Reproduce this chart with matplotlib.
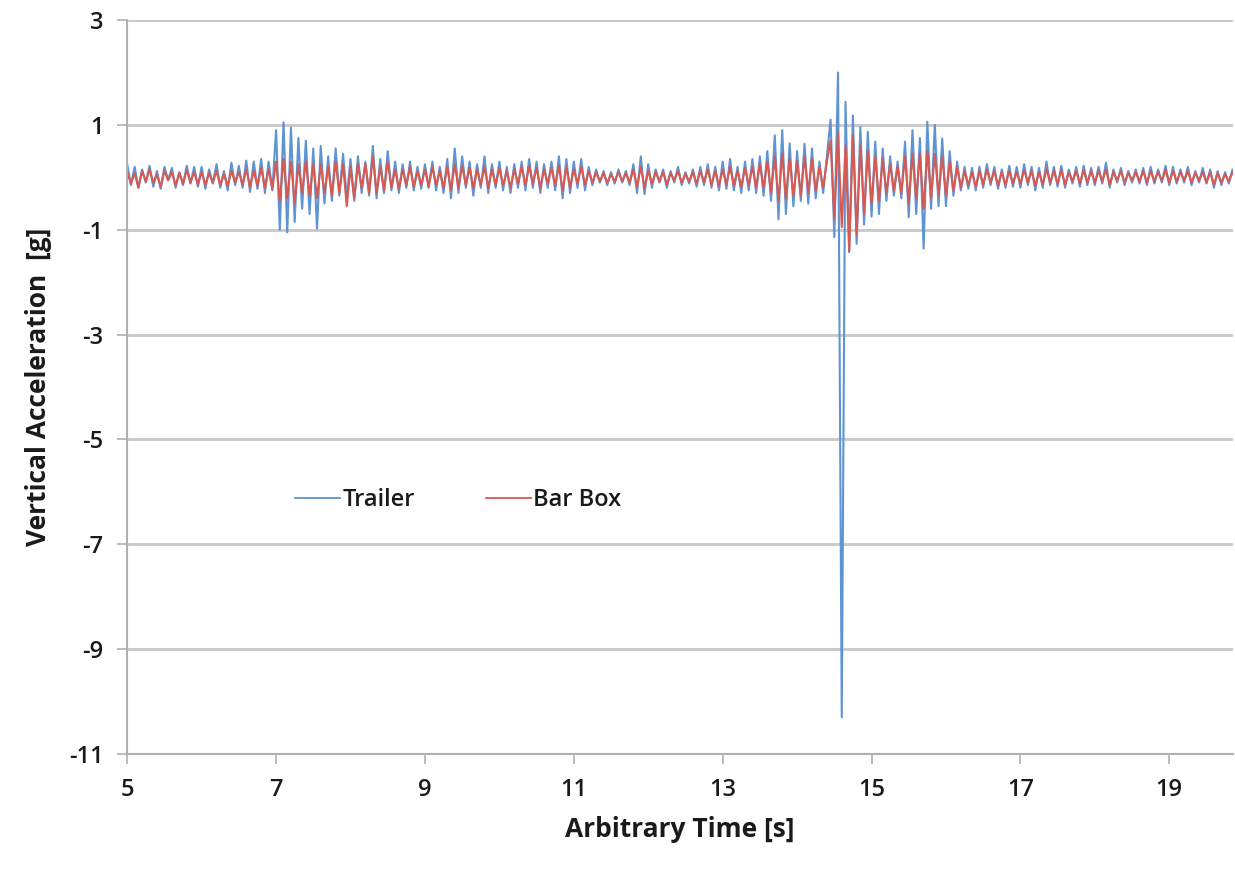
import matplotlib
matplotlib.use('Agg')
import matplotlib.pyplot as plt
import numpy as np

plt.rcParams['font.family'] = ['Open Sans', 'DejaVu Sans']
plt.rcParams['axes.unicode_minus'] = False

T_START = 5.0
DT = 0.05

trailer = [
	# 5 s
	0.25, -0.15, 0.2, -0.2, 0.15, -0.1, 0.22, -0.18, 0.12, -0.22, 0.2, -0.05, 0.18, -0.2, 0.1, -0.15, 0.22, -0.12, 0.2, -0.18,
	# 6 s
	0.2, -0.22, 0.15, -0.12, 0.25, -0.2, 0.12, -0.25, 0.28, -0.15, 0.22, -0.2, 0.32, -0.28, 0.3, -0.22, 0.35, -0.3, 0.3, -0.25,
	# 7 s
	0.9, -1.0, 1.05, -1.05, 0.95, -0.85, 0.75, -0.6, 0.7, -0.7, 0.55, -0.98, 0.6, -0.5, 0.4, -0.45, 0.55, -0.35, 0.45, -0.4,
	# 8 s
	0.35, -0.45, 0.4, -0.3, 0.3, -0.35, 0.6, -0.4, 0.35, -0.3, 0.5, -0.25, 0.3, -0.3, 0.25, -0.2, 0.3, -0.25, 0.2, -0.22,
	# 9 s
	0.25, -0.2, 0.3, -0.25, 0.2, -0.3, 0.35, -0.4, 0.55, -0.3, 0.4, -0.2, 0.3, -0.35, 0.25, -0.2, 0.4, -0.3, 0.25, -0.2,
	# 10 s
	0.3, -0.25, 0.2, -0.3, 0.25, -0.2, 0.3, -0.25, 0.35, -0.2, 0.3, -0.3, 0.25, -0.2, 0.3, -0.25, 0.4, -0.4, 0.35, -0.3,
	# 11 s
	0.3, -0.2, 0.35, -0.25, 0.2, -0.15, 0.15, -0.1, 0.12, -0.15, 0.1, -0.12, 0.15, -0.1, 0.12, -0.15, 0.25, -0.3, 0.4, -0.32,
	# 12 s
	0.25, -0.2, 0.15, -0.1, 0.15, -0.2, 0.12, -0.1, 0.2, -0.15, 0.1, -0.12, 0.15, -0.18, 0.2, -0.15, 0.25, -0.2, 0.2, -0.25,
	# 13 s
	0.3, -0.22, 0.35, -0.25, 0.2, -0.3, 0.3, -0.25, 0.35, -0.3, 0.4, -0.35, 0.5, -0.45, 0.8, -0.8, 0.9, -0.7, 0.65, -0.55,
	# 14 s
	0.5, -0.45, 0.64, -0.5, 0.55, -0.4, 0.3, -0.3, 0.4, 1.1, -1.14, 2.0, -10.3, 1.44, -1.43, 1.18, -1.27, 0.96, -0.9, 0.87,
	# 15 s
	-0.75, 0.68, -0.7, 0.55, -0.45, 0.4, -0.35, 0.3, -0.4, 0.68, -0.76, 0.9, -0.7, 0.75, -1.36, 1.06, -0.6, 1.0, -0.55, 0.74,
	# 16 s
	-0.55, 0.5, -0.35, 0.3, -0.25, 0.2, -0.22, 0.18, -0.25, 0.2, -0.2, 0.25, -0.15, 0.2, -0.22, 0.15, -0.2, 0.22, -0.18, 0.2,
	# 17 s
	-0.2, 0.25, -0.15, 0.2, -0.25, 0.18, -0.2, 0.3, -0.15, 0.2, -0.18, 0.22, -0.2, 0.15, -0.12, 0.2, -0.18, 0.22, -0.15, 0.18,
	# 18 s
	-0.15, 0.2, -0.12, 0.28, -0.2, 0.15, -0.1, 0.18, -0.15, 0.12, -0.1, 0.15, -0.12, 0.18, -0.15, 0.2, -0.12, 0.15, -0.1, 0.22,
	# 19 s
	-0.15, 0.2, -0.12, 0.15, -0.1, 0.2, -0.15, 0.12, -0.1, 0.18, -0.12, 0.15, -0.2, 0.12, -0.15, 0.1, -0.12, 0.15, -0.1,
]

bar_box = [
	# 5 s
	0.1, -0.12, 0.08, -0.2, 0.12, -0.08, 0.15, -0.1, 0.05, -0.18, 0.12, -0.06, 0.1, -0.15, 0.08, -0.12, 0.14, -0.1, 0.1, -0.14,
	# 6 s
	0.1, -0.14, 0.08, -0.1, 0.12, -0.15, 0.06, -0.16, 0.12, -0.1, 0.1, -0.14, 0.15, -0.18, 0.12, -0.16, 0.18, -0.2, 0.15, -0.22,
	# 7 s
	0.3, -0.45, 0.35, -0.4, 0.3, -0.5, 0.25, -0.3, 0.3, -0.35, 0.25, -0.4, 0.25, -0.3, 0.2, -0.35, 0.3, -0.3, 0.25, -0.55,
	# 8 s
	0.2, -0.4, 0.25, -0.2, 0.25, -0.3, 0.4, -0.3, 0.2, -0.25, 0.3, -0.2, 0.15, -0.22, 0.15, -0.15, 0.2, -0.18, 0.12, -0.15,
	# 9 s
	0.15, -0.18, 0.2, -0.15, 0.12, -0.2, 0.2, -0.25, 0.25, -0.2, 0.22, -0.15, 0.18, -0.2, 0.15, -0.15, 0.2, -0.2, 0.15, -0.14,
	# 10 s
	0.18, -0.15, 0.12, -0.2, 0.15, -0.12, 0.2, -0.15, 0.22, -0.12, 0.18, -0.2, 0.15, -0.12, 0.18, -0.16, 0.22, -0.25, 0.2, -0.2,
	# 11 s
	0.15, -0.12, 0.2, -0.15, 0.12, -0.1, 0.1, -0.08, 0.08, -0.1, 0.06, -0.08, 0.1, -0.08, 0.08, -0.1, 0.15, -0.18, 0.2, -0.2,
	# 12 s
	0.12, -0.12, 0.1, -0.08, 0.1, -0.14, 0.08, -0.06, 0.12, -0.1, 0.06, -0.08, 0.1, -0.12, 0.12, -0.1, 0.15, -0.14, 0.12, -0.16,
	# 13 s
	0.15, -0.14, 0.2, -0.15, 0.12, -0.18, 0.18, -0.15, 0.2, -0.2, 0.25, -0.2, 0.3, -0.3, 0.4, -0.45, 0.45, -0.4, 0.35, -0.35,
	# 14 s
	0.3, -0.35, 0.4, -0.3, 0.35, -0.25, 0.2, -0.2, 0.3, 0.7, -0.8, 0.85, -0.95, 0.6, -1.4, 0.8, -1.1, 0.6, -0.7, 0.5,
	# 15 s
	-0.5, 0.4, -0.45, 0.35, -0.3, 0.25, -0.25, 0.2, -0.3, 0.4, -0.5, 0.45, -0.4, 0.45, -0.6, 0.5, -0.4, 0.45, -0.35, 0.4,
	# 16 s
	-0.35, 0.3, -0.25, 0.2, -0.2, 0.12, -0.15, 0.1, -0.18, 0.12, -0.14, 0.15, -0.1, 0.12, -0.16, 0.1, -0.14, 0.12, -0.12, 0.1,
	# 17 s
	-0.12, 0.14, -0.1, 0.12, -0.16, 0.1, -0.14, 0.16, -0.1, 0.12, -0.12, 0.14, -0.14, 0.1, -0.08, 0.12, -0.12, 0.14, -0.1, 0.12,
	# 18 s
	-0.1, 0.12, -0.08, 0.15, -0.14, 0.1, -0.06, 0.12, -0.1, 0.08, -0.06, 0.1, -0.08, 0.12, -0.1, 0.12, -0.08, 0.1, -0.06, 0.14,
	# 19 s
	-0.1, 0.12, -0.08, 0.1, -0.06, 0.12, -0.1, 0.08, -0.06, 0.1, -0.1, 0.1, -0.14, 0.08, -0.1, 0.06, -0.08, 0.1, -0.06,
]

x_ticks = [5, 7, 9, 11, 13, 15, 17, 19]
y_ticks = [-11, -9, -7, -5, -3, -1, 1, 3]

time = T_START + DT * np.arange(len(trailer))

fig = plt.figure(figsize=(12.35, 8.71), dpi=100)
ax = fig.add_axes([0.103, 0.1343, 0.895, 0.8427])

ax.plot(time, trailer, color='#5E93D4', lw=1.5, label='Trailer')
ax.plot(time, bar_box, color='#D65A52', lw=1.5, label='Bar Box')

ax.set_xlim(5, 19.85)
ax.set_ylim(-11, 3)
ax.set_xticks(x_ticks)
ax.set_yticks(y_ticks)
ax.grid(axis='y', color='#c8c8c8', lw=2)
ax.set_axisbelow(True)

for s in ['top', 'right']:
	ax.spines[s].set_visible(False)
for s in ['left', 'bottom']:
	ax.spines[s].set_color('#b0b0b0')
	ax.spines[s].set_linewidth(1.5)

ax.tick_params(axis='both', colors='#b0b0b0', labelcolor='#1a1a1a', labelsize=17, length=7, width=1.2)
ax.tick_params(axis='x', pad=10)
ax.tick_params(axis='y', pad=10)
for lbl in ax.get_xticklabels() + ax.get_yticklabels():
	lbl.set_fontweight('semibold')

ax.set_xlabel('Arbitrary Time [s]', fontsize=19, fontweight='bold', color='#1a1a1a', labelpad=10)
ax.set_ylabel('Vertical Acceleration  [g]', fontsize=19, fontweight='bold', color='#1a1a1a', labelpad=12)

leg = ax.legend(loc='center left', bbox_to_anchor=(0.133, 0.346), ncol=2, frameon=False,
	fontsize=17, handlelength=1.9, handletextpad=0.1, columnspacing=3.0)
for line in leg.get_lines():
	line.set_linewidth(1.3)
for txt in leg.get_texts():
	txt.set_fontweight('semibold')
	txt.set_color('#1a1a1a')

fig.savefig('out.png', dpi=100)
